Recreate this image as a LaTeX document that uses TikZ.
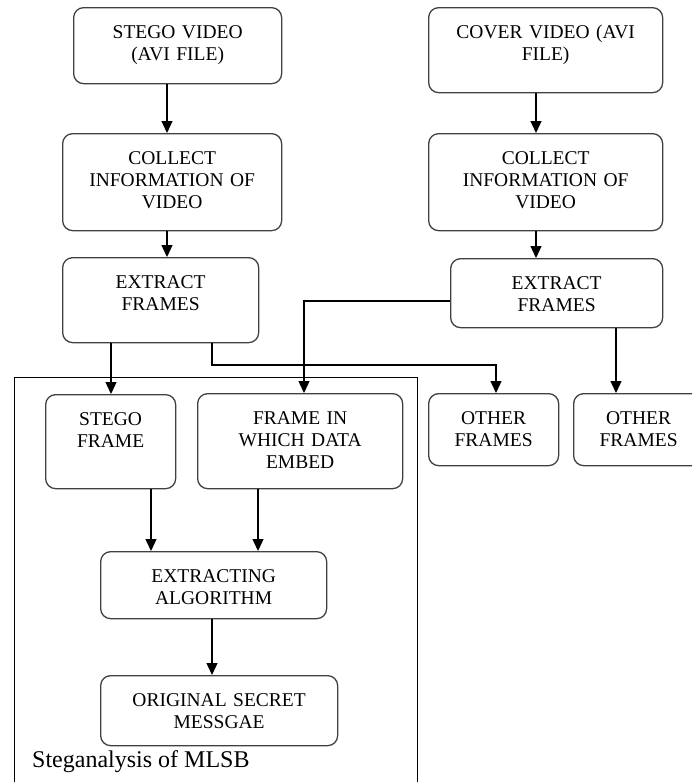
\documentclass[tikz,border=0pt]{standalone}
\usepackage{fontspec}
\setmainfont{Liberation Serif}
\usetikzlibrary{arrows.meta}
\begin{document}
\begin{tikzpicture}[x=1pt,y=-1pt,
  box/.style={draw=black!75, line width=1.3pt, rounded corners=10pt, inner sep=0pt,
    align=center, anchor=north west, text height=31pt,
    font=\fontsize{19.5}{22}\selectfont},
  grpbox/.style={draw=black, line width=1pt, inner sep=0pt, anchor=north west},
  arr/.style={draw=black, line width=1.3pt, -{Triangle[length=12pt,width=11pt]}}]
\useasboundingbox (0,0) rectangle (692,782);
\clip (0,0) rectangle (692,782);

% group frame
\node[grpbox, minimum width=403pt, minimum height=420pt] (grp) at (14,377) {};
\node[anchor=base west, inner sep=0pt, font=\fontsize{24}{27}\selectfont] (lbl) at (32,767) {Steganalysis of MLSB};

% boxes
\node[box, text width=208pt, text depth=45pt] (sv) at (73,7) {STEGO VIDEO\\(AVI FILE)};
\node[box, text width=234pt, text depth=54pt] (cv) at (428,7) {COVER VIDEO (AVI\\FILE)};
\node[box, text width=219pt, text depth=66pt] (ci1) at (62,133) {COLLECT\\INFORMATION OF\\VIDEO};
\node[box, text width=234pt, text depth=66pt] (ci2) at (428,133) {COLLECT\\INFORMATION OF\\VIDEO};
\node[box, text width=196pt, text depth=54pt] (ef1) at (62,257) {EXTRACT\\FRAMES};
\node[box, text width=212pt, text depth=38pt] (ef2) at (450,258) {EXTRACT\\FRAMES};
\node[box, text width=130pt, text depth=63pt] (sf) at (45,394) {STEGO\\FRAME};
\node[box, text width=205pt, text depth=64pt] (fw) at (197,393) {FRAME IN\\WHICH DATA\\EMBED};
\node[box, text width=130pt, text depth=41pt] (of1) at (428,393) {OTHER\\FRAMES};
\node[box, text width=130pt, text depth=41pt] (of2) at (573,393) {OTHER\\FRAMES};
\node[box, text width=226pt, text depth=36pt] (ea) at (100,551) {EXTRACTING\\ALGORITHM};
\node[box, text width=237pt, text depth=39pt] (os) at (100,675) {ORIGINAL SECRET\\MESSGAE};

% connector guide coordinates
\coordinate (xA) at (167,0);
\coordinate (xB) at (536,0);
\coordinate (xC) at (111,0);
\coordinate (xD) at (212,0);
\coordinate (xE) at (496,0);
\coordinate (xF) at (304,0);
\coordinate (xG) at (616,0);
\coordinate (xH) at (151,0);
\coordinate (xI) at (258,0);
\coordinate (xJ) at (212,0);
\coordinate (yM) at (0,365);
\coordinate (yN) at (0,301);

% connectors
\draw[arr] (sv.south -| xA) -- (ci1.north -| xA);
\draw[arr] (cv.south -| xB) -- (ci2.north -| xB);
\draw[arr] (ci1.south -| xA) -- (ef1.north -| xA);
\draw[arr] (ci2.south -| xB) -- (ef2.north -| xB);
\draw[arr] (ef1.south -| xC) -- (sf.north -| xC);
\draw[arr] (ef1.south -| xD) -- (xD |- yM) -| (of1.north -| xE);
\draw[arr] (ef2.west |- yN) -| (fw.north -| xF);
\draw[arr] (ef2.south -| xG) -- (of2.north -| xG);
\draw[arr] (sf.south -| xH) -- (ea.north -| xH);
\draw[arr] (fw.south -| xI) -- (ea.north -| xI);
\draw[arr] (ea.south -| xJ) -- (os.north -| xJ);
\end{tikzpicture}
\end{document}
